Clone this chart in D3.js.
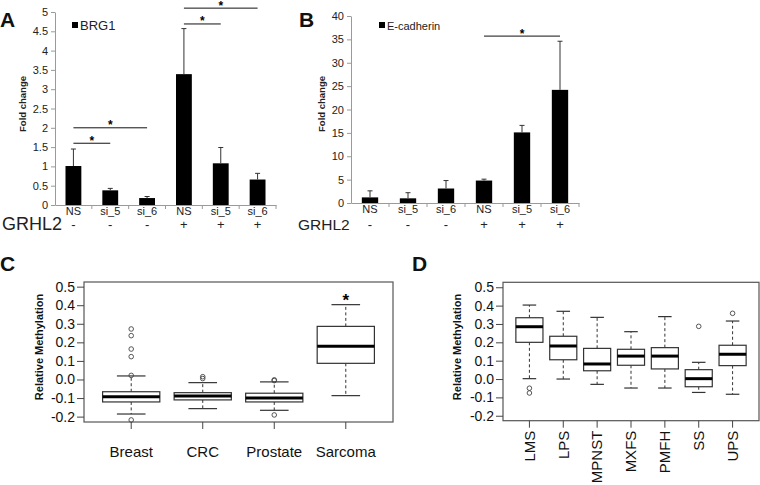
<!DOCTYPE html>
<html>
<head>
<meta charset="utf-8">
<script src="https://cdn.jsdelivr.net/npm/d3@7/dist/d3.min.js"></script>
<style>
  html, body { margin: 0; padding: 0; background: #fff; }
  svg { display: block; font-family: "Liberation Sans", Arial, sans-serif; }
</style>
</head>
<body>
<svg id="chart" width="760" height="485"></svg>
<script>
// ---------------- DATA ----------------
const barCategories = ["NS", "si_5", "si_6", "NS", "si_5", "si_6"];
const grhl2Status = ["-", "-", "-", "+", "+", "+"];

const brg1Mean = [1.01, 0.38, 0.18, 3.39, 1.08, 0.66];
const brg1Err  = [0.44, 0.05, 0.04, 1.18, 0.41, 0.16];
const brg1Ticks = [0, 0.5, 1, 1.5, 2, 2.5, 3, 3.5, 4, 4.5, 5];
const brg1Sig = [ // [from, to, level]
  [0, 1, 1.6], [0, 2, 2.0], [3, 4, 4.69], [3, 5, 5.1]
];

const ecadMean = [1.2, 1.0, 3.1, 4.8, 15.1, 24.2];
const ecadErr  = [1.4, 1.2, 1.7, 0.3, 1.5, 10.4];
const ecadTicks = [0, 5, 10, 15, 20, 25, 30, 35, 40];
const ecadSig = [[3, 5, 35.7]];

const tissueCats = ["Breast", "CRC", "Prostate", "Sarcoma"];
// [whiskerLow, q1, median, q3, whiskerHigh]
const tissueStats = [
  [-0.186, -0.121, -0.093, -0.066, 0.019],
  [-0.157, -0.110, -0.089, -0.071, -0.017],
  [-0.166, -0.121, -0.100, -0.074, -0.013],
  [-0.087, 0.087, 0.179, 0.286, 0.403]
];
const tissueOutliers = [
  [0.272, 0.236, 0.164, 0.123, 0.022, -0.218],
  [0.015, 0.005],
  [-0.002, -0.006, -0.191],
  []
];
const tissueSig = ["", "", "", "*"];

const sarcomaCats = ["LMS", "LPS", "MPNST", "MXFS", "PMFH", "SS", "UPS"];
const sarcomaStats = [
  [0.002, 0.200, 0.285, 0.334, 0.403],
  [0.000, 0.105, 0.180, 0.233, 0.369],
  [-0.029, 0.045, 0.082, 0.167, 0.336],
  [-0.049, 0.075, 0.125, 0.162, 0.258],
  [-0.049, 0.055, 0.125, 0.171, 0.340],
  [-0.073, -0.042, 0.002, 0.051, 0.091],
  [-0.083, 0.073, 0.135, 0.184, 0.316]
];
const sarcomaOutliers = [
  [-0.050, -0.076], [], [], [], [], [0.287], [0.358]
];
const methTicks = [-0.2, -0.1, 0.0, 0.1, 0.2, 0.3, 0.4, 0.5];

// ---------------- DRAW ----------------
const FONT = "Liberation Sans, Arial, sans-serif";
const svg = d3.select("#chart");
svg.append("rect").attr("width", 760).attr("height", 485).attr("fill", "#fff");

function panelLetter(t, x, y, size) {
  svg.append("text").attr("x", x).attr("y", y).text(t)
    .attr("font-weight", "bold").attr("font-size", size).attr("fill", "#111");
}

function barPanel(o) {
  const g = svg.append("g");
  const x = d3.scaleBand().domain(d3.range(o.mean.length)).range([o.x0, o.x1]).padding(0);
  const y = d3.scaleLinear().domain([0, o.ymax]).range([o.yBottom, o.yTop]);
  const bw = x.bandwidth() * 0.43;
  const cx = i => x(i) + x.bandwidth() / 2;

  // y axis
  const ya = g.append("g").attr("transform", `translate(${o.x0},0)`)
    .call(d3.axisLeft(y).tickValues(o.ticks).tickFormat(d3.format("~g")).tickSize(4).tickSizeOuter(0).tickPadding(3));
  ya.selectAll("path, line").attr("stroke", "#9a9a9a");
  ya.selectAll("text").attr("font-size", 11).attr("fill", "#222").attr("font-family", FONT);

  // x axis
  const xa = g.append("g").attr("transform", `translate(0,${o.yBottom})`)
    .call(d3.axisBottom(x).tickFormat(i => barCategories[i]).tickSize(0).tickPadding(2));
  xa.select("path").attr("stroke", "#9a9a9a");
  xa.selectAll("text").attr("font-size", 11).attr("fill", "#222").attr("font-family", FONT);
  const bounds = d3.range(1, o.mean.length + 1).map(i => x(i - 1) + x.bandwidth());
  g.selectAll(".bt").data(bounds).join("line")
    .attr("x1", d => d).attr("x2", d => d)
    .attr("y1", o.yBottom).attr("y2", o.yBottom + 4)
    .attr("stroke", "#9a9a9a");

  // bars
  g.selectAll(".bar").data(o.mean).join("rect")
    .attr("x", (d, i) => cx(i) - bw / 2)
    .attr("y", d => y(d))
    .attr("width", bw)
    .attr("height", d => y(0) - y(d))
    .attr("fill", "#000");

  // error bars
  o.mean.forEach((m, i) => {
    g.append("line").attr("x1", cx(i)).attr("x2", cx(i)).attr("y1", y(m)).attr("y2", y(m + o.err[i]))
      .attr("stroke", "#333").attr("stroke-width", 1);
    g.append("line").attr("x1", cx(i) - 2.5).attr("x2", cx(i) + 2.5).attr("y1", y(m + o.err[i])).attr("y2", y(m + o.err[i]))
      .attr("stroke", "#333").attr("stroke-width", 1);
  });

  // significance
  o.sig.forEach(([a, b, lv]) => {
    g.append("line").attr("x1", cx(a)).attr("x2", cx(b)).attr("y1", y(lv)).attr("y2", y(lv))
      .attr("stroke", "#111").attr("stroke-width", 1);
    g.append("text").attr("x", (cx(a) + cx(b)) / 2).attr("y", y(lv) + 1.5)
      .attr("text-anchor", "middle").attr("font-size", 12).attr("font-weight", "bold").text("*");
  });

  // legend
  g.append("rect").attr("x", o.legendX).attr("y", 22).attr("width", 6).attr("height", 6).attr("fill", "#000");
  g.append("text").attr("x", o.legendX + 8).attr("y", 29.5).attr("font-size", o.legendSize).attr("fill", "#222").text(o.legend);

  // y label
  g.append("text").attr("transform", `translate(${o.ylabX},104) rotate(-90)`)
    .attr("text-anchor", "middle").attr("dy", "0.35em")
    .attr("font-size", 9.5).attr("font-weight", "bold").attr("fill", "#222").text("Fold change");

  // GRHL2 row
  g.append("text").attr("x", o.grhlX).attr("y", 230).attr("font-size", o.grhlSize).attr("fill", "#222").text("GRHL2");
  g.selectAll(".pm").data(grhl2Status).join("text")
    .attr("x", (d, i) => cx(i)).attr("y", 229)
    .attr("text-anchor", "middle").attr("font-size", 13).attr("fill", "#222").text(d => d);
}

function boxPanel(o) {
  const g = svg.append("g");
  const n = o.cats.length;
  const span = o.x1 - o.x0;
  // R default: x limits 0.5..n+0.5 expanded by 4% each side
  const innerPad = span * (0.04 * n) / (n * 1.08);
  const x = d3.scaleBand().domain(o.cats).range([o.x0 + innerPad, o.x1 - innerPad]).padding(0);
  const y = d3.scaleLinear().domain(o.ydom).range([o.yBottom, o.yTop]);
  const bw = x.bandwidth() * 0.8;

  // frame
  g.append("rect").attr("x", o.x0).attr("y", o.yTop).attr("width", span).attr("height", o.yBottom - o.yTop)
    .attr("fill", "none").attr("stroke", "#555").attr("stroke-width", 1.2);

  // y axis
  const ya = g.append("g").attr("transform", `translate(${o.x0},0)`)
    .call(d3.axisLeft(y).tickValues(methTicks).tickFormat(d => d.toFixed(1)).tickSize(7).tickSizeOuter(0).tickPadding(2));
  ya.select("path").remove();
  ya.selectAll("line").attr("stroke", "#444");
  ya.selectAll("text").attr("font-size", 14).attr("fill", "#111").attr("font-family", FONT);

  // x axis
  const xa = g.append("g").attr("transform", `translate(0,${o.yBottom})`)
    .call(d3.axisBottom(x).tickSize(7).tickSizeOuter(0).tickPadding(o.rotate ? 3 : 17));
  xa.select("path").remove();
  xa.selectAll("line").attr("stroke", "#444");
  xa.selectAll("text").attr("font-size", 15).attr("fill", "#111").attr("font-family", FONT);
  if (o.rotate) {
    xa.selectAll("text").attr("transform", "rotate(-90)").attr("text-anchor", "end")
      .attr("x", -10).attr("y", 0).attr("dy", "0.35em");
  }

  // boxes
  o.stats.forEach((s, i) => {
    const cx = x(o.cats[i]) + x.bandwidth() / 2;
    const [lo, q1, med, q3, hi] = s;
    g.append("line").attr("x1", cx).attr("x2", cx).attr("y1", y(q3)).attr("y2", y(hi))
      .attr("stroke", "#333").attr("stroke-dasharray", "3,2.5");
    g.append("line").attr("x1", cx).attr("x2", cx).attr("y1", y(q1)).attr("y2", y(lo))
      .attr("stroke", "#333").attr("stroke-dasharray", "3,2.5");
    g.append("line").attr("x1", cx - bw / 4).attr("x2", cx + bw / 4).attr("y1", y(hi)).attr("y2", y(hi)).attr("stroke", "#333").attr("stroke-width", 1.2);
    g.append("line").attr("x1", cx - bw / 4).attr("x2", cx + bw / 4).attr("y1", y(lo)).attr("y2", y(lo)).attr("stroke", "#333").attr("stroke-width", 1.2);
    g.append("rect").attr("x", cx - bw / 2).attr("y", y(q3)).attr("width", bw).attr("height", y(q1) - y(q3))
      .attr("fill", "#fff").attr("stroke", "#333").attr("stroke-width", 1.2);
    g.append("line").attr("x1", cx - bw / 2).attr("x2", cx + bw / 2).attr("y1", y(med)).attr("y2", y(med))
      .attr("stroke", "#000").attr("stroke-width", 3);
    o.outliers[i].forEach(v => {
      g.append("circle").attr("cx", cx).attr("cy", y(v)).attr("r", 2.3)
        .attr("fill", "none").attr("stroke", "#444").attr("stroke-width", 0.9);
    });
    if (o.sig && o.sig[i]) {
      g.append("text").attr("x", cx).attr("y", y(hi) + 1).attr("text-anchor", "middle")
        .attr("font-size", 17).attr("font-weight", "bold").text(o.sig[i]);
    }
  });

  // y label
  g.append("text").attr("transform", `translate(${o.ylabX},347) rotate(-90)`)
    .attr("text-anchor", "middle").attr("dy", "0.35em")
    .attr("font-size", 11).attr("font-weight", "bold").attr("fill", "#111").text("Relative Methylation");
}

barPanel({
  mean: brg1Mean, err: brg1Err, ymax: 5, ticks: brg1Ticks, sig: brg1Sig,
  x0: 55, x1: 276, yBottom: 205, yTop: 12, legend: "BRG1", legendX: 72, legendSize: 13,
  ylabX: 23, grhlX: 2, grhlSize: 18
});
barPanel({
  mean: ecadMean, err: ecadErr, ymax: 40, ticks: ecadTicks, sig: ecadSig,
  x0: 351, x1: 579, yBottom: 203, yTop: 16, legend: "E-cadherin", legendX: 379, legendSize: 11,
  ylabX: 322, grhlX: 298, grhlSize: 15.5
});
boxPanel({
  cats: tissueCats, stats: tissueStats, outliers: tissueOutliers, sig: tissueSig,
  x0: 84, x1: 393, yTop: 282, yBottom: 422, ydom: [-0.229, 0.525], ylabX: 39, rotate: false
});
boxPanel({
  cats: sarcomaCats, stats: sarcomaStats, outliers: sarcomaOutliers,
  x0: 503, x1: 759, yTop: 282.3, yBottom: 420.7, ydom: [-0.227, 0.527], ylabX: 457, rotate: true
});

panelLetter("A", 0, 27, 21);
panelLetter("B", 299, 27, 21);
panelLetter("C", 0, 271, 21);
panelLetter("D", 412, 271, 21);
</script>
</body>
</html>
